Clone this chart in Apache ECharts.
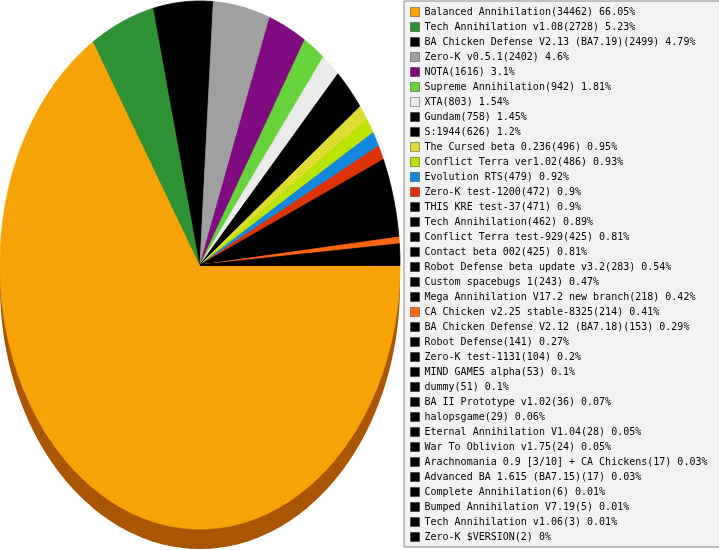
<!DOCTYPE html>
<html>
<head>
<meta charset="utf-8">
<script src="https://cdn.jsdelivr.net/npm/echarts@6/dist/echarts.min.js"></script>
<style>
  html, body { margin: 0; padding: 0; background: #fff; }
  #chart { width: 719px; height: 550px; }
</style>
</head>
<body>
<div id="chart"></div>
<script>
// mods and how many games were played with each
var mods = [
  'Balanced Annihilation', 'Tech Annihilation v1.08', 'BA Chicken Defense V2.13 (BA7.19)',
  'Zero-K v0.5.1', 'NOTA', 'Supreme Annihilation', 'XTA', 'Gundam', 'S:1944',
  'The Cursed beta 0.236', 'Conflict Terra ver1.02', 'Evolution RTS', 'Zero-K test-1200',
  'THIS KRE test-37', 'Tech Annihilation', 'Conflict Terra test-929', 'Contact beta 002',
  'Robot Defense beta update v3.2', 'Custom spacebugs 1', 'Mega Annihilation V17.2 new branch',
  'CA Chicken v2.25 stable-8325', 'BA Chicken Defense V2.12 (BA7.18)', 'Robot Defense',
  'Zero-K test-1131', 'MIND GAMES alpha', 'dummy', 'BA II Prototype v1.02', 'halopsgame',
  'Eternal Annihilation V1.04', 'War To Oblivion v1.75', 'Arachnomania 0.9 [3/10] + CA Chickens',
  'Advanced BA 1.615 (BA7.15)', 'Complete Annihilation', 'Bumped Annihilation V7.19',
  'Tech Annihilation v1.06', 'Zero-K $VERSION'
];
var games = [
  34462, 2728, 2499, 2402, 1616, 942, 803, 758, 626, 496, 486, 479, 472, 471, 462, 425, 425,
  283, 243, 218, 214, 153, 141, 104, 53, 51, 36, 29, 28, 24, 17, 17, 6, 5, 3, 2
];
var percents = [
  '66.05', '5.23', '4.79', '4.6', '3.1', '1.81', '1.54', '1.45', '1.2', '0.95', '0.93', '0.92',
  '0.9', '0.9', '0.89', '0.81', '0.81', '0.54', '0.47', '0.42', '0.41', '0.29', '0.27', '0.2',
  '0.1', '0.1', '0.07', '0.06', '0.05', '0.05', '0.03', '0.03', '0.01', '0.01', '0.01', '0'
];
var colors = [
  '#F7A307', '#2E9133', '#000000', '#A0A0A0', '#800A80', '#66D33A', '#EBEBEB', '#000000',
  '#000000', '#DDDD33', '#BBE500', '#1188DD', '#DD3300', '#000000', '#000000', '#000000',
  '#000000', '#000000', '#000000', '#000000', '#FF6611', '#000000', '#000000', '#000000',
  '#000000', '#000000', '#000000', '#000000', '#000000', '#000000', '#000000', '#000000',
  '#000000', '#000000', '#000000', '#000000'
];

var myChart = echarts.init(document.getElementById('chart'));

var total = 0;
for (var i = 0; i < games.length; i++) total += games[i];

var labels = mods.map(function (m, i) {
  return m + '(' + games[i] + ') ' + percents[i] + '%';
});

// one slice of the (squashed) pie, angles as fractions of the circle
function renderSlice(params, api) {
  var s = api.value(0), e = api.value(1);
  var pts = [api.coord([0, 0])];
  var n = Math.max(2, Math.ceil((e - s) * 720));
  for (var k = 0; k <= n; k++) {
    var a = 2 * Math.PI * (s + (e - s) * k / n);
    pts.push(api.coord([Math.cos(a), -Math.sin(a)]));
  }
  var c = api.visual('color');
  // stroke in the same colour so neighbouring slices don't leave seams
  return {
    type: 'polygon',
    shape: { points: pts },
    style: { fill: c, stroke: c, lineWidth: 0.8, lineJoin: 'round' }
  };
}

// side wall under the pie
function renderSide(params, api) {
  var pts = [];
  for (var k = 0; k < 360; k++) {
    var a = 2 * Math.PI * k / 360;
    pts.push(api.coord([Math.cos(a), -Math.sin(a)]));
  }
  return { type: 'polygon', y: 20, shape: { points: pts }, style: { fill: '#AA5500' } };
}

var series = [{
  type: 'custom',
  name: 'side',
  coordinateSystem: 'cartesian2d',
  clip: false,
  silent: true,
  z: 1,
  data: [[0, 0]],
  renderItem: renderSide
}];

var acc = 0;
for (var i = 0; i < games.length; i++) {
  var start = acc / total;
  acc += games[i];
  series.push({
    type: 'custom',
    name: labels[i],
    coordinateSystem: 'cartesian2d',
    clip: false,
    z: 2,
    itemStyle: { color: colors[i] },
    data: [[start, acc / total]],
    renderItem: renderSlice
  });
}

option = {
  backgroundColor: '#ffffff',
  animation: false,
  grid: { left: 0, top: 1, width: 400, height: 528 },
  xAxis: { type: 'value', min: -1, max: 1, show: false },
  yAxis: { type: 'value', min: -1, max: 1, show: false },
  legend: {
    orient: 'vertical',
    left: 404,
    top: 1,
    padding: [6, 12, 5, 6],
    itemGap: 5,
    itemWidth: 9,
    itemHeight: 9,
    icon: 'rect',
    selectedMode: false,
    backgroundColor: '#F2F2F2',
    borderColor: '#888888',
    borderWidth: 1,
    itemStyle: { borderColor: 'rgba(0,0,0,0.35)', borderWidth: 1 },
    textStyle: { fontFamily: 'DejaVu Sans Mono', fontSize: 10, color: '#000' },
    data: labels
  },
  series: series
};

myChart.setOption(option);
</script>
</body>
</html>
